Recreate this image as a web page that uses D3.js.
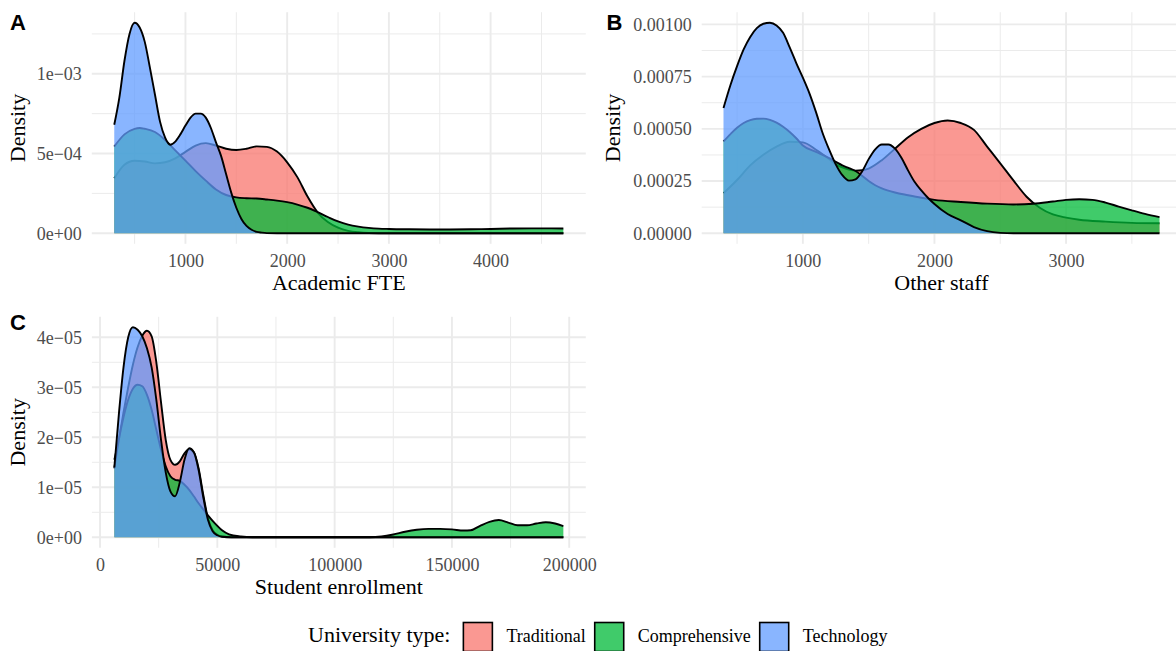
<!DOCTYPE html>
<html>
<head>
<meta charset="utf-8">
<script src="https://cdn.jsdelivr.net/npm/d3@7"></script>
<style>
  body { margin: 0; background: #fff; }
  svg { display: block; }
</style>
</head>
<body>
<div id="chart"></div>
<script>
const types = ["Traditional", "Comprehensive", "Technology"];
const typeColors = ["#F8766D", "#00BA38", "#619CFF"];

// panel A - academic FTE, [value, density]
const fteTraditional = [[300,3.45e-4],[400,4.3e-4],[500,4.55e-4],[600,4.5e-4],[700,4.38e-4],[800,4.45e-4],[900,4.7e-4],[1000,5.1e-4],[1100,5.5e-4],[1200,5.65e-4],[1300,5.5e-4],[1400,5.3e-4],[1500,5.22e-4],[1600,5.3e-4],[1700,5.45e-4],[1800,5.42e-4],[1900,5.12e-4],[2000,4.45e-4],[2100,3.52e-4],[2200,2.3e-4],[2300,1.3e-4],[2400,7e-5],[2500,3.5e-5],[2600,1.5e-5],[2700,6e-6],[2800,2e-6],[3000,0],[4715,0]];
const fteComprehensive = [[300,5.44e-4],[400,6.2e-4],[500,6.55e-4],[550,6.6e-4],[600,6.55e-4],[700,6.35e-4],[800,5.85e-4],[900,5.2e-4],[1000,4.55e-4],[1100,3.9e-4],[1200,3.3e-4],[1300,2.75e-4],[1400,2.4e-4],[1500,2.25e-4],[1600,2.2e-4],[1700,2.18e-4],[1800,2.12e-4],[1900,2.05e-4],[2000,1.95e-4],[2100,1.8e-4],[2200,1.6e-4],[2300,1.32e-4],[2400,1.02e-4],[2500,7.4e-5],[2600,5.4e-5],[2700,4.2e-5],[2800,3.4e-5],[2900,2.9e-5],[3000,2.7e-5],[3200,2.5e-5],[3400,2.4e-5],[3600,2.4e-5],[3800,2.5e-5],[4000,2.7e-5],[4200,3.0e-5],[4400,3.1e-5],[4600,3.1e-5],[4715,3.0e-5]];
const fteTechnology = [[300,6.8e-4],[350,8.5e-4],[400,1.08e-3],[450,1.25e-3],[500,1.32e-3],[550,1.29e-3],[600,1.2e-3],[650,1.04e-3],[700,8.7e-4],[750,7.0e-4],[800,6.0e-4],[850,5.55e-4],[900,5.75e-4],[950,6.2e-4],[1000,6.75e-4],[1050,7.25e-4],[1100,7.5e-4],[1150,7.5e-4],[1200,7.25e-4],[1250,6.6e-4],[1300,5.7e-4],[1350,4.85e-4],[1400,3.7e-4],[1450,2.55e-4],[1500,1.6e-4],[1550,9e-5],[1600,4.6e-5],[1650,2.2e-5],[1700,9e-6],[1750,4e-6],[1800,1e-6],[1900,0],[4715,0]];
const fteXTicks = [1000, 2000, 3000, 4000];
const fteXLabels = ["1000", "2000", "3000", "4000"];
const fteYTicks = [0, 5e-4, 1e-3];
const fteYLabels = ["0e+00", "5e\u221204", "1e\u221203"];

// panel B - other staff
const staffTraditional = [[397,1.92e-4],[500,2.55e-4],[600,3.25e-4],[700,3.76e-4],[800,4.15e-4],[900,4.38e-4],[1000,4.35e-4],[1100,4.0e-4],[1200,3.55e-4],[1250,3.3e-4],[1300,3.15e-4],[1350,3.05e-4],[1400,3.0e-4],[1450,3.02e-4],[1500,3.1e-4],[1600,3.5e-4],[1700,4.05e-4],[1800,4.6e-4],[1900,5.0e-4],[2000,5.28e-4],[2100,5.4e-4],[2200,5.28e-4],[2300,4.95e-4],[2400,4.15e-4],[2500,3.35e-4],[2600,2.53e-4],[2700,1.75e-4],[2800,1.22e-4],[2900,9e-5],[3000,7.5e-5],[3100,6.5e-5],[3300,5.6e-5],[3500,5.0e-5],[3710,4.8e-5]];
const staffComprehensive = [[397,4.4e-4],[450,4.75e-4],[500,5.05e-4],[550,5.28e-4],[600,5.42e-4],[650,5.48e-4],[700,5.49e-4],[750,5.43e-4],[800,5.3e-4],[850,5.1e-4],[900,4.85e-4],[950,4.55e-4],[1000,4.2e-4],[1100,3.9e-4],[1200,3.6e-4],[1250,3.42e-4],[1300,3.25e-4],[1350,3.12e-4],[1400,2.98e-4],[1450,2.75e-4],[1500,2.5e-4],[1550,2.3e-4],[1600,2.15e-4],[1700,1.95e-4],[1800,1.82e-4],[1900,1.7e-4],[2000,1.6e-4],[2200,1.5e-4],[2400,1.42e-4],[2600,1.38e-4],[2750,1.41e-4],[2900,1.52e-4],[3000,1.6e-4],[3100,1.63e-4],[3200,1.6e-4],[3300,1.47e-4],[3400,1.28e-4],[3500,1.1e-4],[3600,9.3e-5],[3710,7.7e-5]];
const staffTechnology = [[397,6.0e-4],[450,7.1e-4],[500,8.0e-4],[550,8.8e-4],[600,9.4e-4],[650,9.82e-4],[700,1.003e-3],[750,1.008e-3],[800,9.95e-4],[850,9.6e-4],[900,8.9e-4],[950,8.15e-4],[1000,7.45e-4],[1050,6.7e-4],[1100,5.8e-4],[1150,4.8e-4],[1200,4.0e-4],[1250,3.3e-4],[1300,2.78e-4],[1350,2.52e-4],[1400,2.58e-4],[1450,2.96e-4],[1500,3.55e-4],[1550,4.02e-4],[1600,4.25e-4],[1650,4.25e-4],[1700,4.05e-4],[1750,3.6e-4],[1800,3.0e-4],[1850,2.45e-4],[1900,2.05e-4],[1950,1.7e-4],[2000,1.4e-4],[2100,9.2e-5],[2200,6.2e-5],[2300,3.0e-5],[2400,1e-5],[2500,2e-6],[2600,0],[3710,0]];
const staffXTicks = [1000, 2000, 3000];
const staffXLabels = ["1000", "2000", "3000"];
const staffYTicks = [0, 0.00025, 0.0005, 0.00075, 0.001];
const staffYLabels = ["0.00000", "0.00025", "0.00050", "0.00075", "0.00100"];

// panel C - student enrollment
const enrolTraditional = [[6100,1.55e-5],[8000,1.95e-5],[10000,2.5e-5],[12000,3.0e-5],[14000,3.45e-5],[16000,3.8e-5],[18000,4.03e-5],[20000,4.13e-5],[22000,4.02e-5],[24000,3.5e-5],[26000,2.7e-5],[28000,1.95e-5],[30000,1.55e-5],[32000,1.45e-5],[34000,1.52e-5],[36000,1.68e-5],[38000,1.76e-5],[40000,1.7e-5],[42000,1.38e-5],[44000,8.5e-6],[46000,3.8e-6],[48000,1.4e-6],[50000,5e-7],[52000,1.5e-7],[56000,0],[197500,0]];
const enrolComprehensive = [[6100,1.38e-5],[8000,1.95e-5],[10000,2.4e-5],[12000,2.75e-5],[14000,2.97e-5],[16000,3.05e-5],[18000,3.02e-5],[20000,2.85e-5],[22000,2.55e-5],[24000,2.15e-5],[26000,1.75e-5],[28000,1.42e-5],[30000,1.22e-5],[32000,1.15e-5],[34000,1.13e-5],[36000,1.05e-5],[38000,9.5e-6],[40000,8.2e-6],[42000,6.8e-6],[44000,5.6e-6],[46000,4.4e-6],[48000,3.3e-6],[50000,2.3e-6],[52000,1.4e-6],[55000,6e-7],[60000,1.5e-7],[65000,0],[115000,0],[120000,1.5e-7],[125000,5.5e-7],[130000,1.1e-6],[135000,1.5e-6],[140000,1.68e-6],[145000,1.68e-6],[150000,1.58e-6],[155000,1.35e-6],[158000,1.4e-6],[162000,2.3e-6],[166000,3.1e-6],[170000,3.45e-6],[174000,2.95e-6],[178000,2.4e-6],[182000,2.4e-6],[186000,2.75e-6],[190000,3.0e-6],[194000,2.75e-6],[197500,2.25e-6]];
const enrolTechnology = [[6100,1.4e-5],[8000,2.45e-5],[10000,3.4e-5],[12000,4.0e-5],[14000,4.2e-5],[16000,4.15e-5],[18000,4.02e-5],[20000,3.78e-5],[22000,3.4e-5],[24000,2.75e-5],[26000,1.95e-5],[28000,1.3e-5],[30000,9.2e-6],[32000,8.2e-6],[34000,1.1e-5],[36000,1.55e-5],[38000,1.78e-5],[40000,1.7e-5],[42000,1.35e-5],[44000,8e-6],[46000,3.5e-6],[48000,1.2e-6],[50000,4e-7],[52000,1e-7],[56000,0],[197500,0]];
const enrolXTicks = [0, 50000, 100000, 150000, 200000];
const enrolXLabels = ["0", "50000", "100000", "150000", "200000"];
const enrolYTicks = [0, 1e-5, 2e-5, 3e-5, 4e-5];
const enrolYLabels = ["0e+00", "1e\u221205", "2e\u221205", "3e\u221205", "4e\u221205"];

const width = 1176;
const height = 651;
const serif = "'Liberation Serif', 'Times New Roman', serif";
const sans = "'Liberation Sans', Arial, sans-serif";

const svg = d3.select("#chart")
    .append("svg")
    .attr("width", width)
    .attr("height", height);

// minor breaks sit halfway between the major ones, like ggplot
function minorBreaks(ticks, domain) {
    const step = ticks[1] - ticks[0];
    const out = [];
    for (let i = -1; i < ticks.length; i++) {
        const v = ticks[0] + step * (i + 0.5);
        if (v > domain[0] && v < domain[1]) out.push(v);
    }
    return out;
}

function drawPanel(p) {
    const all = p.series.flat();
    const [x0, x1] = d3.extent(all, d => d[0]);
    const yMax = d3.max(all, d => d[1]);
    const dx = (x1 - x0) * 0.05;
    const dy = yMax * 0.05;

    const x = d3.scaleLinear().domain([x0 - dx, x1 + dx]).range([p.left, p.right]);
    const y = d3.scaleLinear().domain([-dy, yMax + dy]).range([p.bottom, p.top]);

    const g = svg.append("g");
    const grid = g.append("g").attr("stroke", "#EBEBEB").attr("fill", "none");

    minorBreaks(p.xTicks, x.domain()).forEach(v => {
        grid.append("line").attr("x1", x(v)).attr("x2", x(v)).attr("y1", p.top).attr("y2", p.bottom).attr("stroke-width", 1);
    });
    minorBreaks(p.yTicks, y.domain()).forEach(v => {
        grid.append("line").attr("x1", p.left).attr("x2", p.right).attr("y1", y(v)).attr("y2", y(v)).attr("stroke-width", 1);
    });
    p.xTicks.forEach(v => {
        grid.append("line").attr("x1", x(v)).attr("x2", x(v)).attr("y1", p.top).attr("y2", p.bottom).attr("stroke-width", 1.9);
    });
    p.yTicks.forEach(v => {
        grid.append("line").attr("x1", p.left).attr("x2", p.right).attr("y1", y(v)).attr("y2", y(v)).attr("stroke-width", 1.9);
    });

    const area = d3.area()
        .x(d => x(d[0]))
        .y0(y(0))
        .y1(d => y(d[1]))
        .curve(d3.curveMonotoneX);
    const line = d3.line()
        .x(d => x(d[0]))
        .y(d => y(d[1]))
        .curve(d3.curveMonotoneX);

    p.series.forEach((s, i) => {
        g.append("path")
            .attr("d", area(s))
            .attr("fill", typeColors[i])
            .attr("fill-opacity", 0.75);
        g.append("path")
            .attr("d", line(s))
            .attr("fill", "none")
            .attr("stroke", "#000")
            .attr("stroke-width", 1.9)
            .attr("stroke-linejoin", "round");
    });

    const xAxis = g.append("g")
        .attr("transform", `translate(0,${p.bottom})`)
        .call(d3.axisBottom(x).tickValues(p.xTicks).tickSize(0).tickPadding(10)
            .tickFormat((d, i) => p.xLabels[i]));
    const yAxis = g.append("g")
        .attr("transform", `translate(${p.left},0)`)
        .call(d3.axisLeft(y).tickValues(p.yTicks).tickSize(0).tickPadding(10)
            .tickFormat((d, i) => p.yLabels[i]));
    [xAxis, yAxis].forEach(a => {
        a.select(".domain").remove();
        a.attr("font-family", serif).attr("font-size", 18);
        a.selectAll("text").attr("fill", "#4D4D4D");
    });

    g.append("text")
        .attr("x", (p.left + p.right) / 2)
        .attr("y", p.bottom + 46)
        .attr("text-anchor", "middle")
        .attr("font-family", serif)
        .attr("font-size", 22)
        .text(p.xTitle);

    g.append("text")
        .attr("transform", `translate(${p.yTitleX},${(p.top + p.bottom) / 2}) rotate(-90)`)
        .attr("text-anchor", "middle")
        .attr("font-family", serif)
        .attr("font-size", 22)
        .text("Density");

    g.append("text")
        .attr("x", p.tagX)
        .attr("y", p.tagY)
        .attr("font-family", sans)
        .attr("font-weight", "bold")
        .attr("font-size", 22)
        .text(p.tag);
}

drawPanel({
    tag: "A", tagX: 10, tagY: 30, yTitleX: 25,
    left: 91.8, right: 585.8, top: 12.2, bottom: 243.8,
    series: [fteTraditional, fteComprehensive, fteTechnology],
    xTicks: fteXTicks, xLabels: fteXLabels, yTicks: fteYTicks, yLabels: fteYLabels,
    xTitle: "Academic FTE"
});

drawPanel({
    tag: "B", tagX: 606.5, tagY: 30, yTitleX: 620,
    left: 701.7, right: 1181.3, top: 12.2, bottom: 243.8,
    series: [staffTraditional, staffComprehensive, staffTechnology],
    xTicks: staffXTicks, xLabels: staffXLabels, yTicks: staffYTicks, yLabels: staffYLabels,
    xTitle: "Other staff"
});

drawPanel({
    tag: "C", tagX: 10, tagY: 330, yTitleX: 25,
    left: 91.9, right: 585.8, top: 316.8, bottom: 547.8,
    series: [enrolTraditional, enrolComprehensive, enrolTechnology],
    xTicks: enrolXTicks, xLabels: enrolXLabels, yTicks: enrolYTicks, yLabels: enrolYLabels,
    xTitle: "Student enrollment"
});

// legend along the bottom
const legend = svg.append("g").attr("font-family", serif);
let lx = 308;
const legendTitle = legend.append("text")
    .attr("x", lx).attr("y", 642)
    .attr("font-size", 22)
    .text("University type:");
lx += legendTitle.node().getComputedTextLength() + 13;

types.forEach((t, i) => {
    legend.append("rect")
        .attr("x", lx).attr("y", 622.5)
        .attr("width", 29).attr("height", 29)
        .attr("fill", typeColors[i])
        .attr("fill-opacity", 0.75)
        .attr("stroke", "#000")
        .attr("stroke-width", 1.6);
    lx += 29 + 14;
    const lab = legend.append("text")
        .attr("x", lx).attr("y", 642)
        .attr("font-size", 18)
        .text(t);
    lx += lab.node().getComputedTextLength() + 9;
});
</script>
</body>
</html>
